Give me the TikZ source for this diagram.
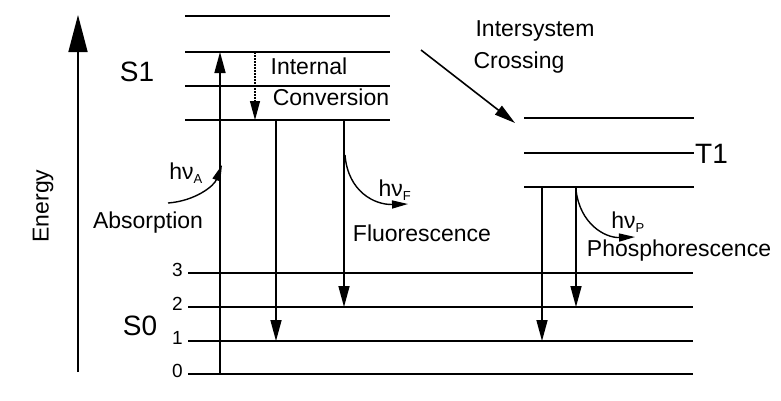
\documentclass[tikz,border=0pt]{standalone}
\usepackage{fontspec}
\setmainfont{Liberation Sans}
\usetikzlibrary{arrows.meta}
\begin{document}
\begin{tikzpicture}[x=1pt,y=-1pt,
  level/.style={line width=1.6pt},
  trans/.style={line width=1.6pt,-{Triangle[length=21pt,width=11pt]}},
  icarrow/.style={line width=1.2pt,dash pattern=on 1.5pt off 1.5pt,-{Triangle[length=19pt,width=10pt]}},
  photon/.style={line width=1.4pt,-{Triangle[length=16pt,width=8pt]}},
  lbl/.style={font=\fontsize{23}{27}\selectfont,inner sep=0pt},
  big/.style={font=\fontsize{28}{31}\selectfont,inner sep=0pt},
  num/.style={font=\fontsize{19}{21}\selectfont,inner sep=0pt,anchor=east}]
\useasboundingbox (0,0) rectangle (781,400);
% energy axis
\coordinate (eb) at (78,372);
\coordinate (et) at (78,15);
\draw[line width=1.6pt,-{Triangle[length=37pt,width=19pt]}] (eb) -- (et);
\node[lbl,rotate=90] (energy) at (43,206) {Energy};
% S1 levels
\foreach \y [count=\i] in {16,52,86,120}{
  \coordinate (s1l\i) at (185,\y);
  \coordinate (s1r\i) at (390,\y);
  \draw[level] (s1l\i) -- (s1r\i);
}
% T1 levels
\foreach \y [count=\i] in {118,153,187}{
  \coordinate (t1l\i) at (524,\y);
  \coordinate (t1r\i) at (694,\y);
  \draw[level] (t1l\i) -- (t1r\i);
}
% S0 levels
\foreach \y/\n in {273/3,307/2,341/1,374/0}{
  \coordinate (s0l\n) at (188,\y);
  \coordinate (s0r\n) at (693,\y);
  \draw[level] (s0l\n) -- (s0r\n);
  \node[num] (n\n) at (183,\y-3) {\n};
}
\node[big] (S1) at (137,72) {S1};
\node[big] (S0) at (140,326) {S0};
\node[big,anchor=west] (T1) at (695,154) {T1};
% absorption
\coordinate (a0) at (220,374);
\coordinate (a1) at (220,52);
\draw[trans] (a0) -- (a1);
% internal conversion
\coordinate (ic0) at (255,52);
\coordinate (ic1) at (255,120);
\draw[icarrow] (ic0) -- (ic1);
\node[lbl] (internal) at (309,66) {Internal};
\node[lbl] (conversion) at (331,97) {Conversion};
% fluorescence
\coordinate (f1a) at (276,120);
\coordinate (f1b) at (276,341);
\draw[trans] (f1a) -- (f1b);
\coordinate (f2a) at (344,120);
\coordinate (f2b) at (344,307);
\draw[trans] (f2a) -- (f2b);
% phosphorescence
\coordinate (p1a) at (542,187);
\coordinate (p1b) at (542,341);
\draw[trans] (p1a) -- (p1b);
\coordinate (p2a) at (576,187);
\coordinate (p2b) at (576,307);
\draw[trans] (p2a) -- (p2b);
% intersystem crossing
\coordinate (isc0) at (421,50);
\coordinate (isc1) at (515,123);
\draw[line width=1.6pt,-{Triangle[length=21pt,width=11pt]}] (isc0) -- (isc1);
\node[lbl] (inter) at (535,31) {Intersystem};
\node[lbl] (crossing) at (519,63) {Crossing};
% photons
\coordinate (hA0) at (168,203);
\coordinate (hA1) at (222,165);
\draw[photon] (hA0) .. controls (195,201) and (214,186) .. (hA1);
\node[lbl] (hvA) at (186,173) {hν\textsubscript{\fontsize{13}{13}\selectfont A}};
\node[lbl] (absorption) at (148,223) {Absorption};
\coordinate (hF0) at (345,155);
\coordinate (hF1) at (408,204);
\draw[photon] (hF0) .. controls (348,192) and (375,205) .. (hF1);
\node[lbl] (hvF) at (395,190) {hν\textsubscript{\fontsize{13}{13}\selectfont F}};
\node[lbl] (fluo) at (422,233) {Fluorescence};
\coordinate (hP0) at (576,190);
\coordinate (hP1) at (635,237);
\draw[photon] (hP0) .. controls (580,224) and (605,238) .. (hP1);
\node[lbl] (hvP) at (628,222) {hν\textsubscript{\fontsize{13}{13}\selectfont P}};
\node[lbl] (phos) at (679,251) {Phosphorescence};
\end{tikzpicture}
\end{document}
